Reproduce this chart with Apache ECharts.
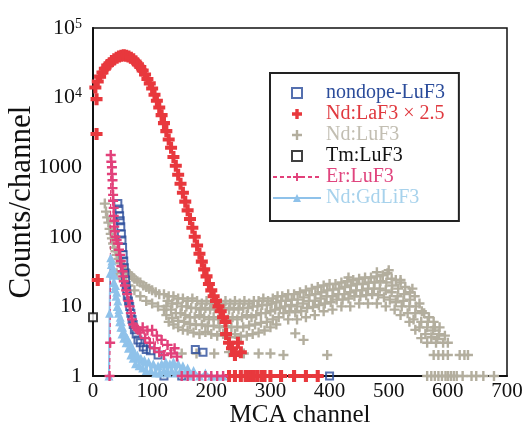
<!DOCTYPE html>
<html>
<head>
<meta charset="utf-8">
<script src="https://cdn.jsdelivr.net/npm/echarts@6/dist/echarts.min.js"></script>
<style>html,body{margin:0;padding:0;background:#fff;}#c{width:525px;height:427px;}</style>
</head>
<body>
<div id="c"></div>
<script>
// ---- data (MCA channel, counts/channel) ----
const seriesNames = ['nondope-LuF3', 'Nd:LaF3 × 2.5', 'Nd:LuF3', 'Tm:LuF3', 'Er:LuF3', 'Nd:GdLiF3'];

const nondopeLuF3 = [[42,300],[44,250],[45,200],[46,170],[47,140],[48,110],[49,90],[50,70],[51,55],[52,45],[53,36],[54,30],[55,24],[56,20],[57,17],[58,14],[60,12],[62,10],[64,8],[66,6.5],[68,5.5],[70,4.6],[73,4],[76,3.3],[80,3],[85,2.6],[90,2.4],[97,2.3],[110,2],[173,2.4],[186,2.2],[120,1],[150,1],[400,1]];

const ndLaF3 = [[4,14000],[8,17000],[12,20000],[16,23000],[20,26000],[24,29000],[28,31000],[32,33500],[36,35500],[40,37500],[44,39000],[48,40000],[52,40500],[56,40000],[60,39000],[64,37500],[68,35500],[72,33000],[76,30000],[80,27500],[84,24500],[88,21500],[92,18500],[96,16000],[100,13500],[104,11000],[108,9000],[112,7200],[116,5600],[120,4300],[124,3300],[128,2500],[132,1900],[136,1400],[140,1050],[144,780],[148,580],[152,430],[156,320],[160,240],[164,180],[168,135],[172,100],[176,75],[180,57],[184,44],[188,34],[192,27],[196,21],[200,17],[204,14],[208,12],[212,10],[216,8.5],[220,7],[224,6],
  [6,9500],[6,3000],[8,24],[225,4],[230,3],[235,2.5],[240,2],[245,3],[250,2.2],
  [230,1],[240,1],[250,1],[258,1],[262,1],[268,1],[272,1],[278,1],[285,1],[290,1],[300,1],[318,1],[340,1],[360,1],[380,1]];

const ndLuF3 = [[20,300],[22,230],[24,190],[26,160],[28,130],[30,110],[32,95],[34,80],[36,70],[38,62],[40,55],[43,48],[46,42],[50,38],[54,34],[58,31],[62,29],[66,27],[70,25],[75,23],[80,22],[85,20],[90,19],[95,18],[100,17],[106,16],[112,15],
  [40,30],[50,25],[60,20],[70,17],[80,14],[90,12],[100,11],[110,10],[120,9],
  [120,15],[128,14],[136,14],[144,13],[152,13],[160,12],[168,13],[176,12],[184,11],[192,12],[200,11],[208,12],[216,11],[224,12],[232,11],[240,12],[248,11],[256,12],[264,11],[272,12],[280,12],[288,13],[296,12],[304,13],[312,14],
  [126,12],[134,11],[142,11],[150,10],[158,10],[166,9.5],[174,9.5],[182,9],[190,9.5],[198,9],[206,9.5],[214,9],[222,9.5],[230,9],[238,9.5],[246,9],[254,9.5],[262,9.5],[270,10],[278,10],[286,10.5],[294,10.5],[302,11],[310,11.5],[318,12],
  [124,10],[132,9],[140,8],[148,8],[156,7.5],[164,7],[172,7],[180,7.5],[188,7],[196,6.5],[204,7],[212,6.5],[220,7],[228,6.5],[236,7],[244,6.5],[252,7],[260,7.5],[268,7],[276,7.5],[284,8],[292,8],[300,8.5],[308,9],[316,9.5],
  [124,7.5],[134,6.8],[144,6.2],[154,6],[164,5.6],[174,5.4],[184,5.5],[194,5.2],[204,5.3],[214,5],[224,5.2],[234,5],[244,5.1],[254,5],[264,5.3],[274,5.5],[284,5.8],[294,6],[304,6.5],[314,7],
  [128,6],[136,5.5],[144,5],[152,4.6],[160,4.5],[170,4.2],[180,4],[190,4.3],[200,4],[210,3.8],[220,4],[230,3.6],[240,4],[250,3.7],[260,3.8],[270,4],[280,4.2],[290,4.5],[300,5],[310,5.5],
  [150,2.1],[175,2.1],[205,2.1],[230,2.2],[255,2.1],[280,2.1],[300,2.1],[322,2],[342,4.1],[356,3.3],[396,2],
  [320,14],[330,15],[340,15],[350,16],[360,17],[370,18],[380,19],[390,20],[400,21],[410,21],[420,22],[430,23],[440,24],[450,25],[460,26],[470,26],[480,27],[490,28],[498,30],[505,25],[512,24],[520,22],[528,19],[536,16],[544,14],[552,11],[560,8],[568,7],[576,6],[586,5],
  [326,12],[336,12.5],[346,12.5],[356,13.5],[366,14.5],[376,15],[386,16],[396,17],[406,17.5],[416,18],[426,19],[436,20],[446,21],[456,21],[466,22],[476,22],[486,23],[496,22],[506,20],[516,18],[526,15],[536,12.5],[546,10],[556,8.5],[566,6],[578,5],
  [325,10],[335,10.5],[345,10],[355,11],[365,12],[375,12],[385,13],[395,14],[405,14],[415,15],[425,15],[435,16],[445,17],[455,17],[465,18],[475,18],[485,18],[495,17],[505,16],[515,14],[525,12],[535,10],[545,8],[555,6],[565,5],[575,4.5],[585,4],[595,3.8],
  [322,8],[332,8.5],[342,8.2],[352,8.6],[362,9.5],[372,9.8],[382,10.5],[392,11],[402,11.5],[412,12.5],[422,12.5],[432,13],[442,14],[452,14],[462,14.5],[472,15],[482,14.5],[492,13.5],[502,12.5],[512,11.5],[522,10],[532,8],[542,6.5],[552,5],[562,4],[572,3.6],[582,3.4],
  [330,6.5],[345,6.5],[360,7],[375,7.5],[390,8.5],[405,9],[420,10],[435,10],[450,11],[465,11],[480,11],[495,10],[510,9],[520,7.5],[535,6],[545,4.6],[555,3.5],[565,3],[580,3],[592,3],[600,3],
  [432,26],[480,31],[500,33],[520,24],[540,18],
  [576,2],[584,2],[592,2],[600,2],[620,2],[628,2],[634,2],
  [565,1],[572,1],[578,1],[584,1],[590,1],[596,1],[600,1],[605,1],[610,1],[615,1],[625,1],[640,1],[648,1],[660,1],[678,1]];

const tmLuF3 = [[0,7]];

const erLuF3 = [[28,1],[29,3],[30,1500],[31,1200],[32,1000],[32,800],[33,650],[33,500],[34,400],[34,330],[35,260],[35,200],[36,170],[36,140],[37,120],[38,100],[40,90],[42,80],[44,65],[46,55],[47,45],[48,38],[50,32],[51,27],[52,23],[54,20],[56,17],[58,15],[60,12],[62,10],[64,8],[66,6.5],[68,5.5],[72,5],[76,4.6],[80,4.2],[84,5],[88,3.5],[92,4.5],[96,3],[100,4.6],[104,2.5],[108,3.8],[112,2.2],[116,3.3],[120,2],[126,2.8],[132,2.1],[138,2.5],[142,1.9],[150,1],[160,1],[170,1],[180,1],[190,1],[200,1],[210,1],[220,1]];

const ndGdLiF3 = [[27,1],[28,8],[29,30],[30,50],[31,40],[32,45],[33,30],[34,35],[35,22],[36,28],[37,18],[38,20],[39,14],[40,16],[41,10],[42,12],[43,8],[44,9],[45,6],[46,7],[47,5],[48,6],[49,4],[50,5],[52,3.5],[54,4],[56,3],[58,3.5],[60,2.5],[62,3],[64,2],[66,2.6],[68,1.8],[70,2.2],[72,1.5],[75,2],[78,1.4],[81,1.8],[84,1.3],[87,1.7],[90,1.2],[94,1.6],[98,1.2],[102,1.5],[106,1.1],[110,1.4],[113,1.1],[116,1.5],[120,1.2],[123,1.6],[126,1.1],[130,1.5],[133,1.2],[136,1.6],[140,1.1],[144,1.5],[148,1.2],[152,1.4],[156,1.1],[160,1.3],[165,1],[170,1.2],[180,1],[190,1.1],[200,1],[210,1],[220,1]];

const xTicks = [0, 100, 200, 300, 400, 500, 600, 700];
const yTicks = [1, 10, 100, 1000, 10000, 100000];

// ---- styles ----
const FONT = 'Liberation Serif';
const C = {
  nondope: '#2b4c9b', la: '#e8383d', lu: '#b3ae9e', tm: '#111111', er: '#e2407a', gd: '#8fc2ea'
};
const TXT = {
  nondope: '#2b4c9b', la: '#e0393f', lu: '#c2beb2', tm: '#111111', er: '#e0457e', gd: '#a7d2ec'
};
const plusThick = 'path://M3.3,0H6.7V3.3H10V6.7H6.7V10H3.3V6.7H0V3.3H3.3Z';
const plusThin = 'path://M3.8,0H6.2V3.8H10V6.2H6.2V10H3.8V6.2H0V3.8H3.8Z';
const square = 'path://M0,0H10V10H0Z';

const chart = echarts.init(document.getElementById('c'), null, {renderer: 'canvas'});
chart.setOption({
  animation: false,
  backgroundColor: '#fff',
  grid: {left: 93, right: 18, top: 28, bottom: 51, show: true, borderColor: '#111', borderWidth: 1.5,
         containLabel: false, outerBoundsMode: 'none'},
  xAxis: {
    type: 'value', min: xTicks[0], max: xTicks[xTicks.length - 1], interval: 100,
    name: 'MCA channel', nameLocation: 'middle', nameGap: 27, nameMoveOverlap: false,
    nameTextStyle: {fontFamily: FONT, fontSize: 25, color: '#111'},
    axisLine: {show: true, lineStyle: {color: '#111', width: 2}},
    axisTick: {show: false}, splitLine: {show: false},
    axisLabel: {fontFamily: FONT, fontSize: 21, color: '#111', margin: 5}
  },
  yAxis: {
    type: 'log', logBase: 10, min: yTicks[0], max: yTicks[yTicks.length - 1],
    name: 'Counts/channel', nameLocation: 'middle', nameGap: 56, nameMoveOverlap: false,
    nameTextStyle: {fontFamily: FONT, fontSize: 31, color: '#111'},
    axisLine: {show: true, lineStyle: {color: '#111', width: 2}},
    axisTick: {show: false}, splitLine: {show: false},
    axisLabel: {
      fontFamily: FONT, fontSize: 22, color: '#111', margin: 11,
      formatter: function (v) {
        const e = Math.round(Math.log10(v));
        if (e >= 4) return '{b|10}{s|' + e + '}';
        return String(Math.round(v));
      },
      rich: {
        b: {fontFamily: FONT, fontSize: 22, color: '#111'},
        s: {fontFamily: FONT, fontSize: 14, color: '#111', verticalAlign: 'top'}
      }
    }
  },
  legend: {
    orient: 'vertical', left: 270, top: 73,
    padding: [10, 14, 13, 2],
    borderColor: '#222', borderWidth: 2,
    itemWidth: 48, itemHeight: 10, itemGap: 1,
    selectedMode: false, symbolKeepAspect: true,
    textStyle: {fontFamily: FONT, fontSize: 20, lineHeight: 20},
    data: [
      {name: seriesNames[0], textStyle: {color: TXT.nondope}},
      {name: seriesNames[1], textStyle: {color: TXT.la}},
      {name: seriesNames[2], textStyle: {color: TXT.lu}},
      {name: seriesNames[3], textStyle: {color: TXT.tm}},
      {name: seriesNames[4], textStyle: {color: TXT.er}},
      {name: seriesNames[5], textStyle: {color: TXT.gd}}
    ]
  },
  series: [
    {
      name: seriesNames[5], type: 'line', data: ndGdLiF3,
      symbol: 'triangle', symbolSize: 9, showSymbol: true,
      itemStyle: {color: C.gd}, lineStyle: {color: C.gd, width: 2}
    },
    {
      name: seriesNames[2], type: 'scatter', data: ndLuF3,
      symbol: plusThin, symbolSize: 10, itemStyle: {color: C.lu, opacity: 1}
    },
    {
      name: seriesNames[0], type: 'scatter', data: nondopeLuF3,
      symbol: square, symbolSize: 7,
      itemStyle: {color: 'rgba(255,255,255,0)', borderColor: C.nondope, borderWidth: 2}
    },
    {
      name: seriesNames[4], type: 'line', data: erLuF3,
      symbol: plusThin, symbolSize: 10, showSymbol: true,
      itemStyle: {color: C.er}, lineStyle: {color: C.er, width: 1.2, type: [4, 3]}
    },
    {
      name: seriesNames[1], type: 'scatter', data: ndLaF3,
      symbol: plusThick, symbolSize: 12, itemStyle: {color: C.la, opacity: 1}
    },
    {
      name: seriesNames[3], type: 'scatter', data: tmLuF3,
      symbol: square, symbolSize: 8,
      itemStyle: {color: '#fff', borderColor: C.tm, borderWidth: 2}
    }
  ]
});
</script>
</body>
</html>
